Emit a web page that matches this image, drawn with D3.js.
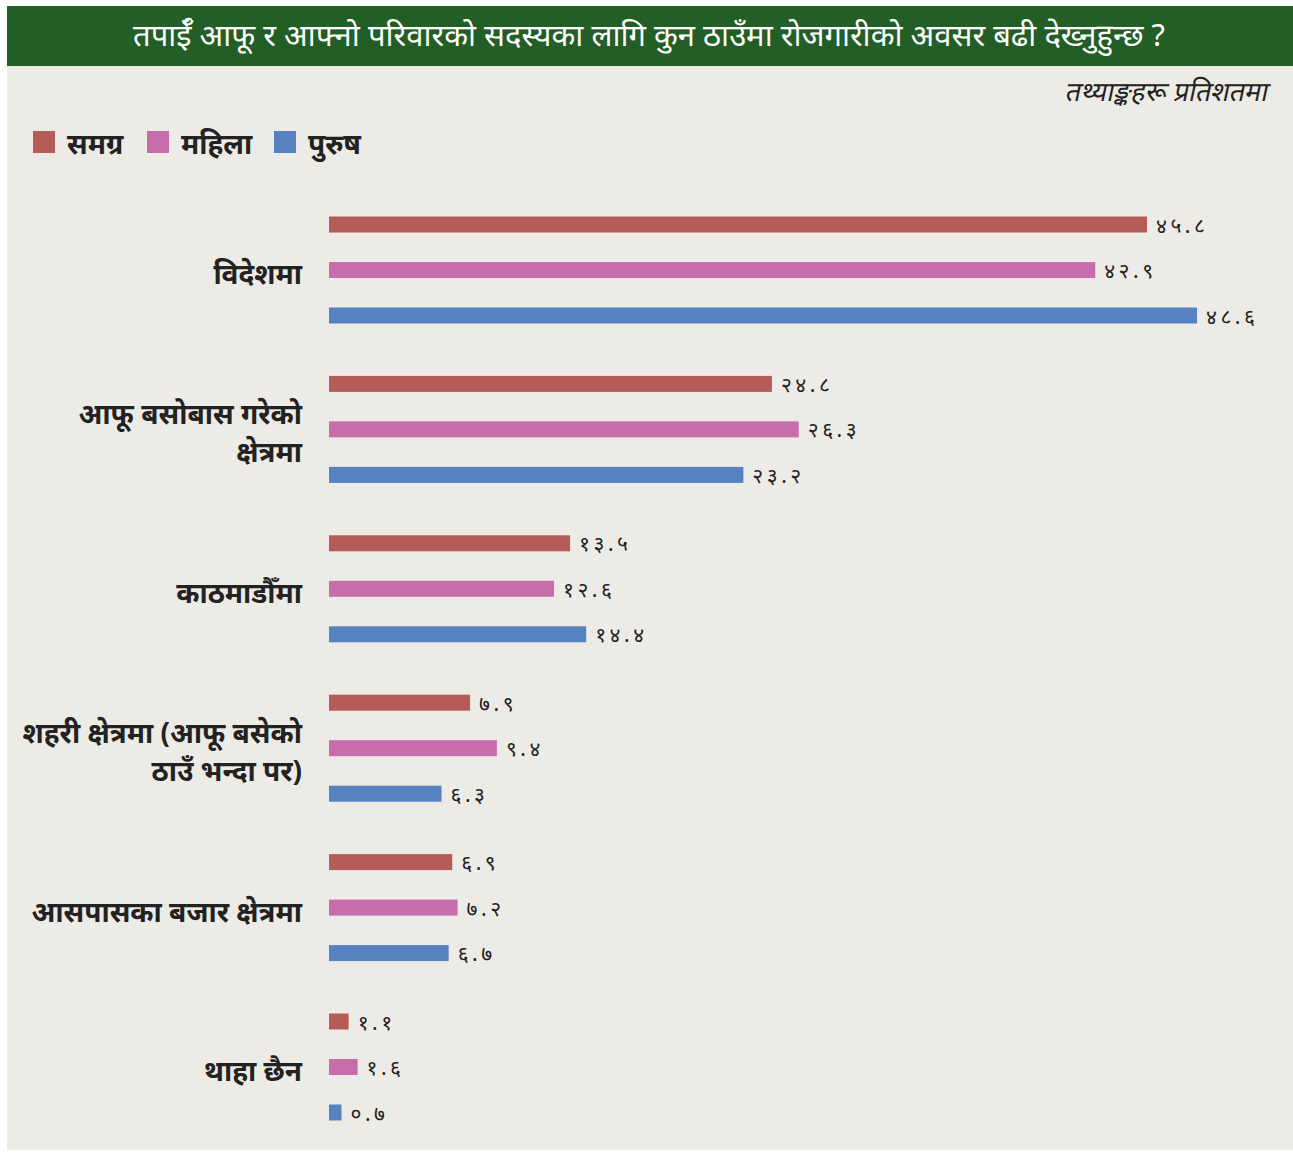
<!DOCTYPE html>
<html><head><meta charset="utf-8">
<script src="https://cdn.jsdelivr.net/npm/d3@7"></script>
<style>
html,body{margin:0;padding:0;background:#fff;}
svg{display:block;}
text{font-family:"Noto Sans","Noto Sans Devanagari",sans-serif;}
</style></head><body>
<svg id="chart" width="1293" height="1153"></svg>
<script>
const title = "तपाईँ आफू र आफ्नो परिवारको सदस्यका लागि कुन ठाउँमा रोजगारीको अवसर बढी देख्नुहुन्छ ?";
const subtitle = "तथ्याङ्कहरू प्रतिशतमा";
const categories = [
  ["विदेशमा"],
  ["आफू बसोबास गरेको", "क्षेत्रमा"],
  ["काठमाडौँमा"],
  ["शहरी क्षेत्रमा (आफू बसेको", "ठाउँ भन्दा पर)"],
  ["आसपासका बजार क्षेत्रमा"],
  ["थाहा छैन"]
];
const seriesNames = ["समग्र", "महिला", "पुरुष"];
const samagra = [45.8, 24.8, 13.5, 7.9, 6.9, 1.1];
const mahila  = [42.9, 26.3, 12.6, 9.4, 7.2, 1.6];
const purush  = [48.6, 23.2, 14.4, 6.3, 6.7, 0.7];
const valueLabels = [
  ["४५.८","२४.८","१३.५","७.९","६.९","१.१"],
  ["४२.९","२६.३","१२.६","९.४","७.२","१.६"],
  ["४८.६","२३.२","१४.४","६.३","६.७","०.७"]
];
const series = [samagra, mahila, purush];
const colors = ["#b55b58", "#c76dab", "#5682c2"];

const svg = d3.select("#chart");
svg.append("rect").attr("x",7).attr("y",66).attr("width",1286).attr("height",1084).attr("fill","#edebe6");
svg.append("rect").attr("x",7).attr("y",6).attr("width",1286).attr("height",60).attr("fill","#225e25");
svg.append("text").attr("x",649).attr("y",46).attr("text-anchor","middle")
  .attr("fill","#fff").attr("font-size",31).text(title);
svg.append("g").attr("transform","translate(1267,101) skewX(-12)")
  .append("text").attr("text-anchor","end")
  .attr("fill","#222").attr("font-size",27).text(subtitle);

const legX = [33, 147, 274];
seriesNames.forEach((n,i)=>{
  svg.append("rect").attr("x",legX[i]).attr("y",131).attr("width",22).attr("height",22).attr("fill",colors[i]);
  svg.append("text").attr("x",legX[i]+34).attr("y",154).attr("fill","#222")
    .attr("font-size",28).attr("font-weight","bold").text(n);
});

const x = d3.scaleLinear().domain([0, 45.8]).range([329, 1147]);
const yc = d3.scalePoint().domain(d3.range(categories.length)).range([270, 1067]);
const yb = d3.scalePoint().domain(d3.range(3)).range([-45.5, 45.5]);
const barH = 16;

categories.forEach((cat, ci)=>{
  const g = svg.append("g").attr("transform", `translate(0,${yc(ci)})`);
  series.forEach((s, si)=>{
    g.append("rect").attr("x", x(0)).attr("y", yb(si) - barH/2)
      .attr("width", x(s[ci]) - x(0)).attr("height", barH).attr("fill", colors[si]);
    g.append("text").attr("x", x(s[ci]) + 9).attr("y", yb(si) + 8)
      .attr("font-size", 21).attr("letter-spacing", 3.5).attr("fill","#222").text(valueLabels[si][ci]);
  });
  const lh = 38;
  const n = cat.length;
  cat.forEach((line, li)=>{
    g.append("text").attr("x", 302).attr("y", 14 + (li - (n-1)/2)*lh)
      .attr("text-anchor","end").attr("font-size",28).attr("font-weight","bold").attr("fill","#222").text(line);
  });
});
</script>
</body></html>
